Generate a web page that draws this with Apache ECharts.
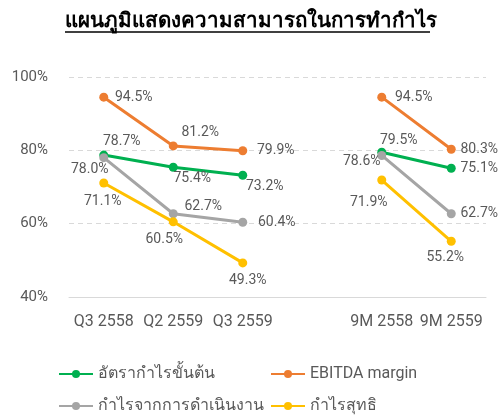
<!DOCTYPE html>
<html>
<head>
<meta charset="utf-8">
<script src="https://cdn.jsdelivr.net/npm/echarts@6/dist/echarts.min.js"></script>
<style>
  html, body { margin: 0; padding: 0; background: #fff; }
  #chart { width: 500px; height: 417px; }
</style>
</head>
<body>
<div id="chart"></div>
<script>
// หมวด (ช่องว่างแยกรายไตรมาสกับ 9 เดือน)
var categories = ['Q3 2558', 'Q2 2559', 'Q3 2559', '', '9M 2558', '9M 2559'];
var grossMargin = [78.7, 75.4, 73.2, null, 79.5, 75.1];
var ebitdaMargin = [94.5, 81.2, 79.9, null, 94.5, 80.3];
var operatingMargin = [78.0, 62.7, 60.4, null, 78.6, 62.7];
var netMargin = [71.1, 60.5, 49.3, null, 71.9, 55.2];
var seriesNames = ['อัตรากำไรขั้นต้น', 'EBITDA margin', 'กำไรจากการดำเนินงาน', 'กำไรสุทธิ'];
var yTicks = [40, 60, 80, 100];

// ระยะเลื่อน label จากจุด (จุดกึ่งกลาง label)
var grossOffset = [[18, -14], [19, 11], [22, 11], null, [17, -12], [28, 0]];
var ebitdaOffset = [[30, 0], [27, -13], [33, 0], null, [32, 0], [28, 0]];
var operOffset = [[-14, 12], [30, -7], [34, 0], null, [-20, 6], [28, 0]];
var netOffset = [[-1, 19], [-9, 18], [5, 18], null, [-13, 22], [-6, 16]];

var labelColor = '#595959';
var font = 'Roboto, "Noto Sans", sans-serif';

function buildData(values, offsets) {
  return values.map(function (v, i) {
    if (v === null) return null;
    return { value: v, label: { offset: offsets[i] } };
  });
}

function makeSeries(name, values, color, offsets) {
  return {
    name: name,
    type: 'line',
    data: buildData(values, offsets),
    connectNulls: false,
    symbol: 'circle',
    symbolSize: 9,
    itemStyle: { color: color },
    lineStyle: { color: color, width: 3 },
    label: {
      show: true,
      position: 'inside',
      color: labelColor,
      fontSize: 14,
      fontFamily: font,
      formatter: function (p) { return p.value.toFixed(1) + '%'; }
    },
    z: 3
  };
}

var chart = echarts.init(document.getElementById('chart'));

var legendText = { fontSize: 16, color: labelColor, fontFamily: font };

var option = {
  animation: false,
  title: {
    text: 'แผนภูมิแสดงความสามารถในการทำกำไร',
    left: 60,
    top: 6,
    textStyle: { fontSize: 20.5, fontWeight: 'bold', color: '#000', fontFamily: font }
  },
  graphic: [{
    type: 'line',
    shape: { x1: 65, y1: 32, x2: 430, y2: 32 },
    style: { stroke: '#000', lineWidth: 1.5 }
  }],
  grid: { left: 69, right: 14, top: 77, height: 220 },
  legend: [
    {
      data: [seriesNames[0], seriesNames[2]],
      orient: 'vertical',
      left: 53,
      top: 361,
      height: 80,
      itemGap: 16,
      itemWidth: 34,
      itemHeight: 10,
      textStyle: legendText
    },
    {
      data: [seriesNames[1], seriesNames[3]],
      orient: 'vertical',
      left: 265,
      top: 361,
      height: 80,
      itemGap: 16,
      itemWidth: 34,
      itemHeight: 10,
      textStyle: legendText
    }
  ],
  xAxis: {
    type: 'category',
    data: categories,
    axisLine: { lineStyle: { color: '#d9d9d9' } },
    axisTick: { show: false },
    axisLabel: { interval: 0, color: labelColor, fontSize: 16, fontFamily: font, margin: 17 }
  },
  yAxis: {
    type: 'value',
    min: yTicks[0],
    max: yTicks[yTicks.length - 1],
    interval: 20,
    axisLine: { show: false },
    axisTick: { show: false },
    axisLabel: {
      color: labelColor, fontSize: 15, fontFamily: font, margin: 21,
      formatter: '{value}%'
    },
    splitLine: { lineStyle: { color: '#d9d9d9', type: [5, 4] } }
  },
  series: [
    makeSeries(seriesNames[0], grossMargin, '#00B050', grossOffset),
    makeSeries(seriesNames[1], ebitdaMargin, '#ED7D31', ebitdaOffset),
    makeSeries(seriesNames[2], operatingMargin, '#A5A5A5', operOffset),
    makeSeries(seriesNames[3], netMargin, '#FFC000', netOffset)
  ]
};

chart.setOption(option);
window.onresize = function () { chart.resize(); };
</script>
</body>
</html>
